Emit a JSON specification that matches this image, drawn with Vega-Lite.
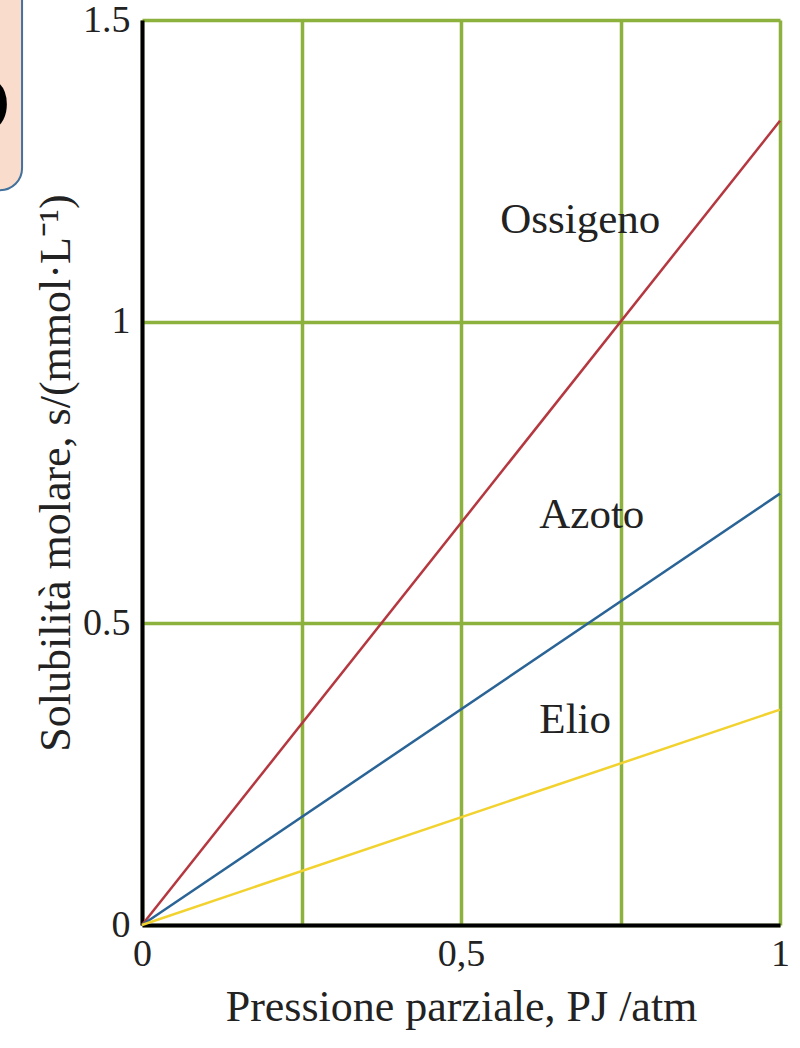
{
  "$schema": "https://vega.github.io/schema/vega-lite/v6.json",
  "width": 638,
  "height": 905,
  "autosize": "none",
  "padding": {"left": 142, "top": 20, "right": 20, "bottom": 123},
  "background": "white",
  "config": {"view": {"stroke": null}, "font": "Liberation Serif"},
  "datasets": {
    "lines": [
      {"gas": "Ossigeno", "p": 0, "s": 0},
      {"gas": "Ossigeno", "p": 1, "s": 1.333},
      {"gas": "Azoto", "p": 0, "s": 0},
      {"gas": "Azoto", "p": 1, "s": 0.715},
      {"gas": "Elio", "p": 0, "s": 0},
      {"gas": "Elio", "p": 1, "s": 0.357}
    ],
    "labels": [
      {"gas": "Ossigeno", "p": 0.687, "s": 1.168},
      {"gas": "Azoto", "p": 0.705, "s": 0.68},
      {"gas": "Elio", "p": 0.679, "s": 0.34}
    ],
    "box": [
      {"p": -0.4, "p2": -0.188, "s": 1.218, "s2": 1.62}
    ],
    "glyph": [
      {"p": -0.2555, "s": 1.354, "t": "O"}
    ]
  },
  "encoding": {
    "x": {
      "field": "p", "type": "quantitative",
      "scale": {"domain": [0, 1], "nice": false},
      "axis": {
        "values": [0, 0.25, 0.5, 0.75, 1],
        "labelExpr": "datum.value == 0 ? '0' : datum.value == 0.5 ? '0,5' : datum.value == 1 ? '1' : ''",
        "grid": true, "gridColor": "#8cb13c", "gridWidth": 3.5,
        "domainColor": "#000", "domainWidth": 4,
        "ticks": false, "labelFlush": false,
        "labelFontSize": 38, "labelColor": "#222", "labelPadding": 10,
        "title": "Pressione parziale, PJ /atm",
        "titleFontSize": 44, "titleFontWeight": "normal", "titleColor": "#222", "titlePadding": 12
      }
    },
    "y": {
      "field": "s", "type": "quantitative",
      "scale": {"domain": [0, 1.5], "nice": false},
      "axis": {
        "values": [0, 0.5, 1, 1.5],
        "labelExpr": "datum.value == 0 ? '0' : datum.value == 0.5 ? '0.5' : datum.value == 1 ? '1' : '1.5'",
        "grid": true, "gridColor": "#8cb13c", "gridWidth": 3.5,
        "domainColor": "#000", "domainWidth": 4,
        "ticks": false,
        "labelFontSize": 38, "labelColor": "#222", "labelPadding": 12, "labelFlush": false,
        "title": "Solubilità molare, s/(mmol·L⁻¹)",
        "titleFontSize": 44, "titleFontWeight": "normal", "titleColor": "#222", "titlePadding": 4
      }
    }
  },
  "layer": [
    {
      "data": {"name": "lines"},
      "mark": {"type": "line", "strokeWidth": 2.5},
      "encoding": {
        "color": {
          "field": "gas", "type": "nominal",
          "scale": {"domain": ["Ossigeno", "Azoto", "Elio"], "range": ["#b5373f", "#2a6496", "#f2d22e"]},
          "legend": null
        }
      }
    },
    {
      "data": {"name": "box"},
      "mark": {"type": "rect", "fill": "#f9dccb", "stroke": "#41719c", "strokeWidth": 2, "cornerRadius": 22},
      "encoding": {
        "x2": {"field": "p2"},
        "y2": {"field": "s2"}
      }
    },
    {
      "data": {"name": "glyph"},
      "mark": {"type": "text", "font": "Liberation Sans", "fontWeight": "bold", "fontSize": 80, "color": "#000", "align": "center", "baseline": "middle"},
      "encoding": {
        "text": {"field": "t"}
      }
    },
    {
      "data": {"name": "labels"},
      "mark": {"type": "text", "fontSize": 43, "color": "#222", "align": "center", "baseline": "middle"},
      "encoding": {
        "text": {"field": "gas"}
      }
    }
  ]
}
